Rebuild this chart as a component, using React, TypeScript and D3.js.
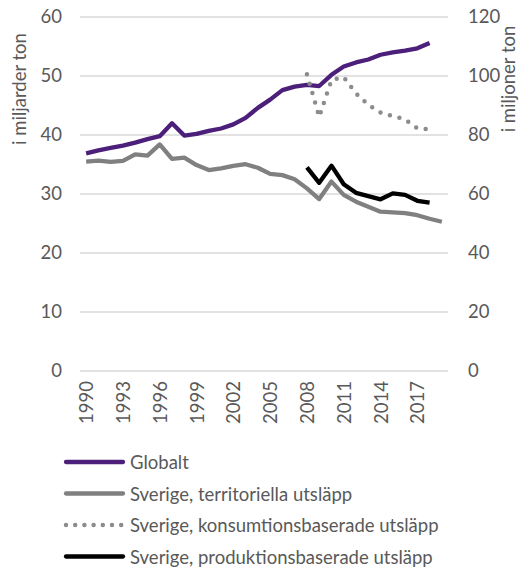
import React, { useEffect, useRef } from 'react';
import * as d3 from 'd3';

// years on the category axis (last one only has the territorial value)
const years = d3.range(1990, 2020).map(String);
const tickYears = ['1990', '1993', '1996', '1999', '2002', '2005', '2008', '2011', '2014', '2017'];

// left axis, billion tonnes
const globalt = [
  36.9, 37.4, 37.8, 38.2, 38.7, 39.3, 39.8, 42.0, 39.9, 40.2,
  40.7, 41.1, 41.8, 42.9, 44.6, 46.0, 47.6, 48.2, 48.5, 48.3,
  50.2, 51.6, 52.3, 52.8, 53.6, 54.0, 54.3, 54.7, 55.6, null,
];

// right axis, million tonnes
const territoriella = [
  71.0, 71.3, 70.9, 71.2, 73.4, 73.0, 76.8, 71.9, 72.3, 69.8,
  68.1, 68.7, 69.5, 70.1, 68.9, 66.8, 66.4, 65.0, 61.9, 58.3,
  64.2, 59.7, 57.4, 55.7, 54.0, 53.8, 53.5, 52.8, 51.6, 50.6,
];
const konsumtion = [
  null, null, null, null, null, null, null, null, null, null,
  null, null, null, null, null, null, null, null, 100.6, 86.2,
  98.6, 99.6, 94.1, 90.2, 87.6, 86.4, 85.3, 82.3, 81.9, null,
];
const produktion = [
  null, null, null, null, null, null, null, null, null, null,
  null, null, null, null, null, null, null, null, 69.0, 63.8,
  69.6, 63.3, 60.4, 59.3, 58.2, 60.2, 59.7, 57.7, 57.1, null,
];

const leftTitle = 'i miljarder ton';
const rightTitle = 'i miljoner ton';

const series = [
  { name: 'Globalt', values: globalt, axis: 'left', color: '#4b1f7a', dots: false },
  { name: 'Sverige, territoriella utsläpp', values: territoriella, axis: 'right', color: '#808080', dots: false },
  { name: 'Sverige, konsumtionsbaserade utsläpp', values: konsumtion, axis: 'right', color: '#8c8c8c', dots: true },
  { name: 'Sverige, produktionsbaserade utsläpp', values: produktion, axis: 'right', color: '#000000', dots: false },
];

const font = 'Lato, "Open Sans", sans-serif';
const textColor = '#595959';
const fontSize = '18.5px';

const App: React.FC = () => {
  const ref = useRef<SVGSVGElement | null>(null);

  useEffect(() => {
    if (!ref.current) return;
    const svg = d3.select(ref.current);
    svg.selectAll('*').remove();

    const left = 80;
    const right = 448;
    const top = 17;
    const bottom = 371;

    const x = d3.scaleBand<string>().domain(years).range([left, right]);
    const cx = (y: string) => (x(y) as number) + x.bandwidth() / 2;
    const yL = d3.scaleLinear().domain([0, 60]).range([bottom, top]);
    const yR = d3.scaleLinear().domain([0, 120]).range([bottom, top]);

    // gridlines
    svg
      .append('g')
      .selectAll('line')
      .data(yL.ticks(6))
      .join('line')
      .attr('x1', left)
      .attr('x2', right)
      .attr('y1', (d) => yL(d))
      .attr('y2', (d) => yL(d))
      .attr('stroke', '#d9d9d9')
      .attr('stroke-width', 1.3);

    const styleAxis = (g: d3.Selection<SVGGElement, unknown, null, undefined>) => {
      g.select('.domain').remove();
      g.selectAll('text').attr('fill', textColor).style('font-family', font).style('font-size', fontSize);
    };

    svg
      .append('g')
      .attr('transform', `translate(${left},0)`)
      .call(d3.axisLeft(yL).ticks(6).tickSize(0).tickPadding(18))
      .call(styleAxis);

    svg
      .append('g')
      .attr('transform', `translate(${right},0)`)
      .call(d3.axisRight(yR).ticks(6).tickSize(0).tickPadding(20))
      .call(styleAxis);

    // x tick labels, rotated
    svg
      .append('g')
      .selectAll('text')
      .data(tickYears)
      .join('text')
      .attr('transform', (d) => `translate(${cx(d)},381) rotate(-90)`)
      .attr('text-anchor', 'end')
      .attr('dominant-baseline', 'central')
      .attr('fill', textColor)
      .style('font-family', font)
      .style('font-size', fontSize)
      .text((d) => d);

    // axis titles
    svg
      .append('text')
      .attr('transform', 'translate(26,89) rotate(-90)')
      .attr('text-anchor', 'middle')
      .attr('fill', textColor)
      .style('font-family', font)
      .style('font-size', fontSize)
      .text(leftTitle);
    svg
      .append('text')
      .attr('transform', 'translate(515,79) rotate(-90)')
      .attr('text-anchor', 'middle')
      .attr('fill', textColor)
      .style('font-family', font)
      .style('font-size', fontSize)
      .text(rightTitle);

    // lines
    series.forEach((s) => {
      const yScale = s.axis === 'left' ? yL : yR;
      const pts = years
        .map((yr, i) => ({ yr, v: s.values[i] }))
        .filter((d) => d.v !== null) as { yr: string; v: number }[];
      const line = d3
        .line<{ yr: string; v: number }>()
        .x((d) => cx(d.yr))
        .y((d) => yScale(d.v));
      const path = svg
        .append('path')
        .datum(pts)
        .attr('d', line)
        .attr('fill', 'none')
        .attr('stroke', s.color)
        .attr('stroke-linejoin', 'round');
      if (s.dots) {
        path.attr('stroke-width', 4.5).attr('stroke-dasharray', '0 9.8').attr('stroke-linecap', 'round');
      } else {
        path.attr('stroke-width', 4.3);
      }
    });

    // legend
    const legend = svg
      .append('g')
      .selectAll('g')
      .data(series)
      .join('g')
      .attr('transform', (_, i) => `translate(0,${462 + i * 31.5})`);
    legend
      .append('line')
      .attr('x1', 66)
      .attr('x2', 123)
      .attr('stroke', (d) => d.color)
      .attr('stroke-width', (d) => (d.dots ? 4.5 : 4.3))
      .attr('stroke-linecap', 'round')
      .attr('stroke-dasharray', (d) => (d.dots ? '0 9.2' : null));
    legend
      .append('text')
      .attr('x', 130)
      .attr('dominant-baseline', 'central')
      .attr('fill', textColor)
      .style('font-family', font)
      .style('font-size', fontSize)
      .text((d) => d.name);
  }, []);

  return (
    <svg
      ref={ref}
      width={522}
      height={568}
      style={{ position: 'absolute', left: 0, top: 0, background: '#fff' }}
    />
  );
};

export default App;
